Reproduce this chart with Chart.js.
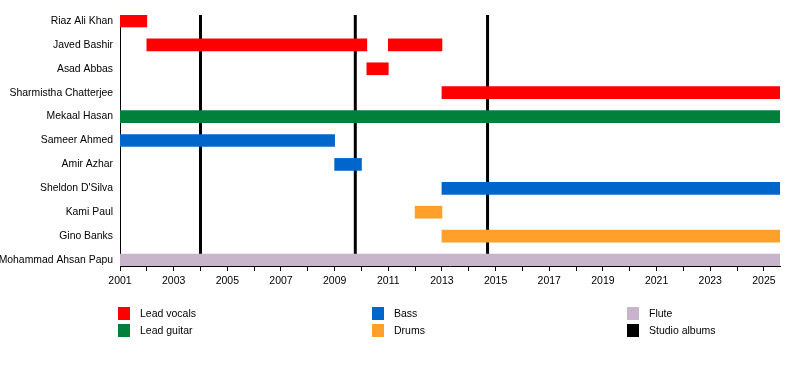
<!DOCTYPE html>
<html>
<head>
<meta charset="utf-8">
<script src="https://cdn.jsdelivr.net/npm/chart.js@4/dist/chart.umd.min.js"></script>
<style>
  body { margin: 0; background: #fff; }
</style>
</head>
<body>
<canvas id="chart" width="800" height="385"></canvas>
<script>
const members = ['Riaz Ali Khan', 'Javed Bashir', 'Asad Abbas', 'Sharmistha Chatterjee', 'Mekaal Hasan',
    'Sameer Ahmed', 'Amir Azhar', "Sheldon D'Silva", 'Kami Paul', 'Gino Banks', 'Mohammad Ahsan Papu'];
const startYear = 2001;
const endYear = 2025.6;

// [member, from, to]
const leadVocals = [['Riaz Ali Khan', 2001, 2002], ['Javed Bashir', 2002, 2010.2], ['Javed Bashir', 2011, 2013],
    ['Asad Abbas', 2010.2, 2011], ['Sharmistha Chatterjee', 2013, endYear]];
const leadGuitar = [['Mekaal Hasan', 2001, endYear]];
const bass = [['Sameer Ahmed', 2001, 2009], ['Amir Azhar', 2009, 2010], ["Sheldon D'Silva", 2013, endYear]];
const drums = [['Kami Paul', 2012, 2013], ['Gino Banks', 2013, endYear]];
const flute = [['Mohammad Ahsan Papu', 2001, endYear]];
const studioAlbums = [2004, 2009.77, 2014.7];

const roleNames = ['Lead vocals', 'Lead guitar', 'Bass', 'Drums', 'Flute', 'Studio albums'];
const roleColors = ['#ff0000', '#00803a', '#0066cc', '#ffa02a', '#c8b4cb', '#000000'];

const fontFamily = '"Liberation Sans", Arial, sans-serif';

function barSet(label, color, rows) {
    return {
        type: 'bar',
        label: label,
        data: rows.map(r => ({x: [r[1], r[2]], y: members.indexOf(r[0])})),
        backgroundColor: color,
        borderWidth: 0,
        barThickness: 12,
        grouped: false,
        order: 0
    }
}

const datasets = [
    barSet(roleNames[0], roleColors[0], leadVocals),
    barSet(roleNames[1], roleColors[1], leadGuitar),
    barSet(roleNames[2], roleColors[2], bass),
    barSet(roleNames[3], roleColors[3], drums),
    barSet(roleNames[4], roleColors[4], flute)
];
studioAlbums.forEach(year => {
    datasets.push({
        type: 'line',
        label: roleNames[5],
        data: [{x: year, y: -0.25}, {x: year, y: members.length - 1.25}],
        borderColor: '#000',
        borderWidth: 3,
        pointRadius: 0,
        order: 10
    })
});

const legendPlugin = {
    id: 'roleLegend',
    afterDraw(chart) {
        const ctx = chart.ctx;
        const cols = [118, 372, 627];
        const rows = [314, 331];
        ctx.save();
        ctx.font = '10.5px ' + fontFamily;
        ctx.textBaseline = 'middle';
        roleNames.forEach((name, i) => {
            const x = cols[Math.floor(i / 2)];
            const y = rows[i % 2];
            ctx.fillStyle = roleColors[i];
            ctx.fillRect(x, y - 7, 12, 13);
            ctx.fillStyle = '#000';
            ctx.fillText(name, x + 22, y);
        });
        ctx.restore();
    }
};

const yearTicks = s => {
    s.ticks = [];
    for (let y = startYear; y <= Math.floor(endYear); y++) s.ticks.push({value: y});
};
const memberTicks = s => { s.ticks = members.map((m, i) => ({value: i})) };

new Chart(document.getElementById('chart').getContext('2d'), {
    data: {datasets: datasets},
    options: {
        indexAxis: 'y',
        responsive: false,
        animation: false,
        layout: {padding: {top: 15, right: 20, left: 0, bottom: 0}},
        plugins: {legend: {display: false}, tooltip: {enabled: false}},
        scales: {
            x: {
                type: 'linear',
                min: startYear,
                max: endYear,
                offset: false,
                afterBuildTicks: yearTicks,
                afterFit: s => { s.height = 119 },
                border: {display: true, color: '#000', width: 1},
                grid: {drawOnChartArea: false, drawTicks: true, tickLength: 5, color: '#000', offset: false},
                ticks: {
                    autoSkip: false,
                    maxRotation: 0,
                    padding: 4,
                    color: '#000',
                    font: {family: fontFamily, size: 10.5},
                    callback: v => (v - startYear) % 2 === 0 ? String(v) : ''
                }
            },
            y: {
                type: 'linear',
                reverse: true,
                min: -0.25,
                max: members.length - 0.75,
                offset: false,
                afterBuildTicks: memberTicks,
                afterFit: s => { s.width = 120 },
                border: {display: true, color: '#000', width: 1},
                grid: {drawOnChartArea: false, drawTicks: false, offset: false},
                ticks: {
                    autoSkip: false,
                    padding: 7,
                    color: '#000',
                    font: {family: fontFamily, size: 10.4},
                    callback: v => members[v]
                }
            }
        }
    },
    plugins: [legendPlugin]
});
</script>
</body>
</html>
